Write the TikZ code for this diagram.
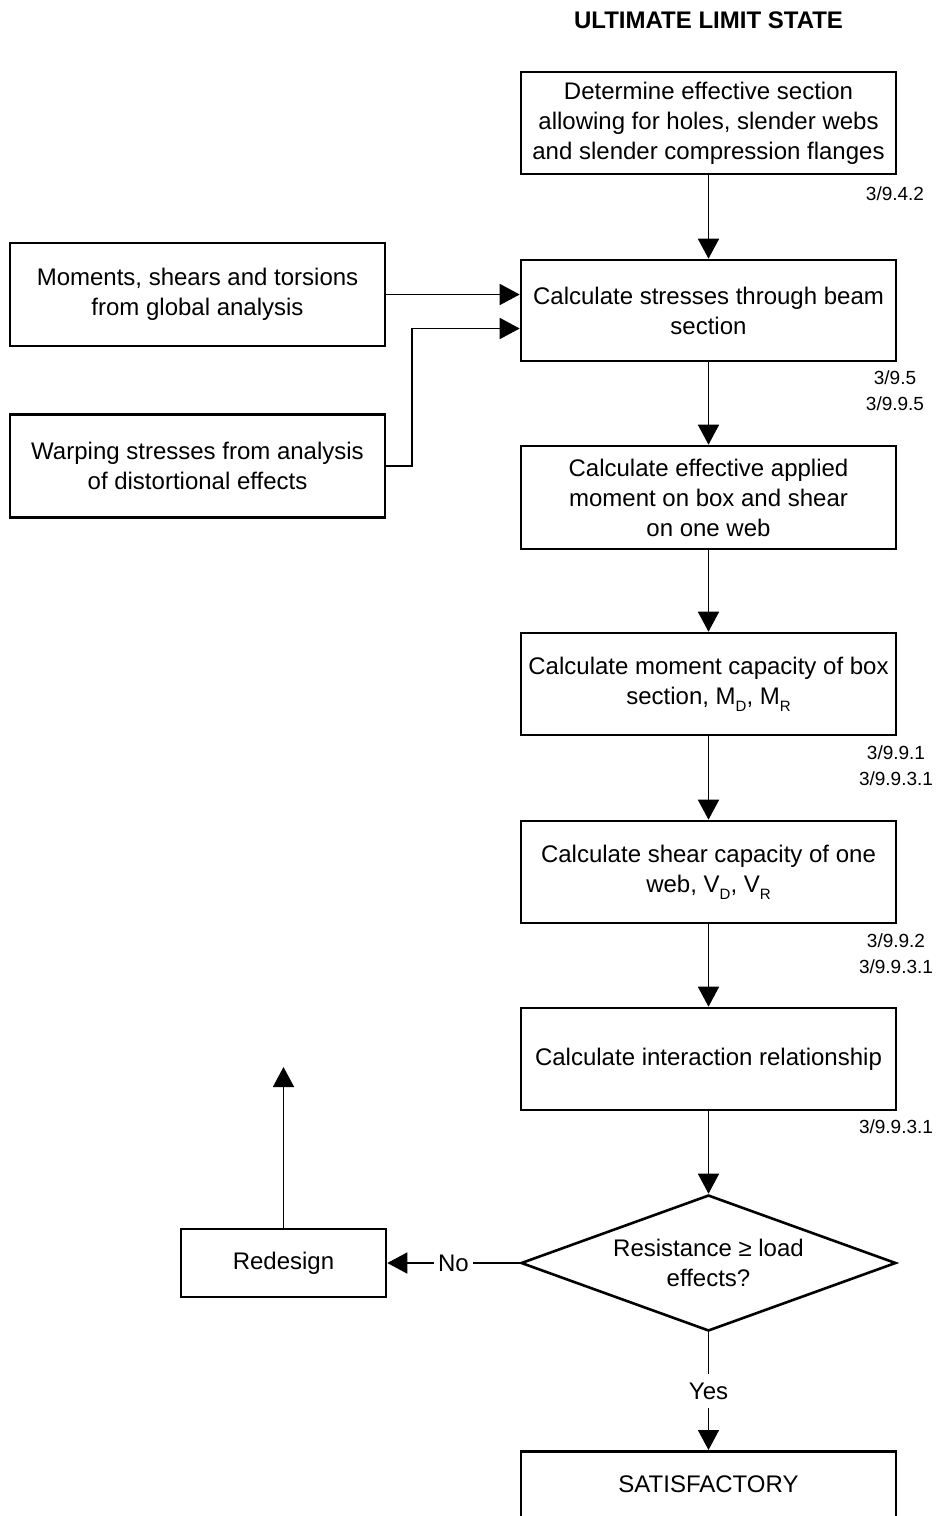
\documentclass[tikz,border=0pt]{standalone}
\usepackage{fontspec}
\setmainfont{Liberation Sans}
\usetikzlibrary{arrows.meta,shapes.geometric}
\newcommand\subx[1]{\raisebox{-7pt}{\fontsize{15}{15}\selectfont #1}}
\begin{document}
\begin{tikzpicture}[x=1pt,y=-1pt,
  basebox/.style={draw, line width=2.6pt, rectangle, minimum width=375pt, minimum height=102pt, inner sep=0pt, font=\fontsize{24}{30}\selectfont},
  box/.style={basebox, align=center},
  dec/.style={draw, line width=2.6pt, diamond, aspect=2.76, minimum width=375pt, minimum height=136pt, inner sep=0pt, align=center, font=\fontsize{24}{30}\selectfont},
  arr/.style={line width=1.6pt, -{Triangle[length=20pt,width=21pt]}},
  ref/.style={align=center, inner sep=0pt, font=\fontsize{19}{26}\selectfont},
  lbl/.style={fill=white, inner xsep=4pt, inner ysep=8pt, text height=17pt, text depth=1pt, font=\fontsize{24}{28}\selectfont}]
\useasboundingbox (0,0) rectangle (946,1516);

\node[font=\bfseries\fontsize{24}{28}\selectfont] (title) at (708.5,20) {ULTIMATE LIMIT STATE};

\node[box] (b1) at (708.5,123) {Determine effective section\\allowing for holes, slender webs\\and slender compression flanges};
\node[box, minimum height=101pt] (s2) at (708.5,310.5) {Calculate stresses through beam\\section};
\node[box, minimum height=103pt] (b3) at (708.5,497.5) {Calculate effective applied\\moment on box and shear\\on one web};
\node[box] (b4) at (708.5,684) {Calculate moment capacity of box\\section, M\subx{D}, M\subx{R}};
\node[box] (b5) at (708.5,872) {Calculate shear capacity of one\\web, V\subx{D}, V\subx{R}};
\node[box] (b6) at (708.5,1059) {Calculate interaction relationship};
\node[dec] (d) at (708.5,1263) {Resistance ≥ load\\effects?};
\node[basebox, anchor=north, minimum height=0pt, text height=41pt, text depth=70pt] (sat) at (708.5,1450) {SATISFACTORY};

\node[box, minimum height=103pt] (mom) at (197.5,294.5) {Moments, shears and torsions\\from global analysis};
\node[box, minimum height=103pt] (warp) at (197.5,466) {Warping stresses from analysis\\of distortional effects};
\node[box, minimum width=205pt, minimum height=68pt] (red) at (283.5,1263) {Redesign};
\coordinate (up) at (283.5,1067);

\node[ref] (r1) at (895,194) {3/9.4.2};
\node[ref] (r2) at (895,391) {3/9.5\\3/9.9.5};
\node[ref] (r4) at (896,765.5) {3/9.9.1\\3/9.9.3.1};
\node[ref] (r5) at (896,953.5) {3/9.9.2\\3/9.9.3.1};
\node[ref] (r6) at (896,1127) {3/9.9.3.1};

\draw[arr] (b1) -- (s2);
\draw[arr] (s2) -- (b3);
\draw[arr] (b3) -- (b4);
\draw[arr] (b4) -- (b5);
\draw[arr] (b5) -- (b6);
\draw[arr] (b6) -- (d);
\draw[arr] (d.south) -- node[lbl] {Yes} (sat.north);
\draw[arr] (d.west) -- node[lbl] {No} (red.east);
\draw[arr] (red.north) -- (up);
\draw[arr] (mom.east) -- (mom.east -| s2.west);
\draw[arr] (warp.east) -- ++(25.5,0) |- ([yshift=-18pt]s2.west);
\end{tikzpicture}
\end{document}
